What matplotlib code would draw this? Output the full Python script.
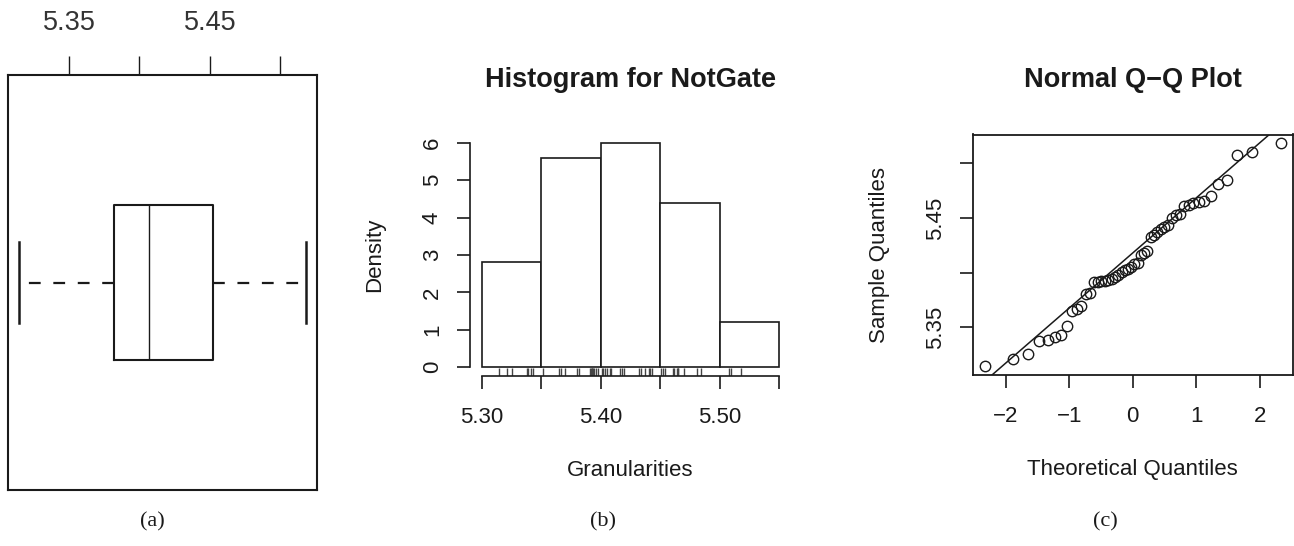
import matplotlib
matplotlib.use("Agg")
import matplotlib.pyplot as plt
import matplotlib.transforms as mtransforms
import numpy as np
from statistics import NormalDist

plt.rcParams['font.family'] = ['Liberation Sans', 'DejaVu Sans']

# NotGate granularity measurements (sorted)
granularities = [
    5.3147, 5.3213, 5.3253, 5.3376, 5.3385, 5.3409, 5.3430, 5.3513, 5.3652, 5.3664,
    5.3695, 5.3804, 5.3817, 5.3911, 5.3917, 5.3923, 5.3926, 5.3932, 5.3941, 5.3962,
    5.3977, 5.4008, 5.4020, 5.4035, 5.4054, 5.4078, 5.4084, 5.4160, 5.4175, 5.4196,
    5.4321, 5.4342, 5.4373, 5.4403, 5.4418, 5.4433, 5.4503, 5.4525, 5.4540, 5.4607,
    5.4616, 5.4640, 5.4646, 5.4652, 5.4698, 5.4808, 5.4844, 5.5075, 5.5097, 5.5180,
]
hist_edges = [5.30, 5.35, 5.40, 5.45, 5.50, 5.55]
box_ticks = [5.35, 5.40, 5.45, 5.50]
box_ticklabels = ['5.35', '', '5.45', '']
hist_xticks = [5.30, 5.35, 5.40, 5.45, 5.50, 5.55]
hist_xticklabels = ['5.30', '', '5.40', '', '5.50', '']
hist_yticks = [0, 1, 2, 3, 4, 5, 6]
qq_xticks = [-2, -1, 0, 1, 2]
qq_xticklabels = ['\u22122', '\u22121', '0', '1', '2']
qq_yticks = [5.35, 5.40, 5.45, 5.50]
qq_yticklabels = ['5.35', '', '5.45', '']
captions = ['(a)', '(b)', '(c)']

x = np.array(granularities)
W, H = 1294, 546
fig = plt.figure(figsize=(W / 100, H / 100), dpi=100)


def rect(l, r, t, b):
    return [l / W, 1 - b / H, (r - l) / W, (b - t) / H]


def padded(lo, hi, f=0.04):
    d = (hi - lo) * f
    return lo - d, hi + d


TICK_FS = 16
LAB_FS = 16
TITLE_FS = 19.5
INK = '#1a1a1a'

# ---------------- (a) horizontal boxplot ----------------
axa = fig.add_axes(rect(8, 317, 75, 490))
n = len(x)
xs = np.sort(x)
med = np.median(xs)
half = (n + 1) // 2
q1 = np.median(xs[:half])
q3 = np.median(xs[n - half:])
stats = [dict(med=med, q1=q1, q3=q3, whislo=xs[0], whishi=xs[-1], fliers=[])]
axa.bxp(stats, positions=[1], widths=0.747, capwidths=0.388,
        orientation='horizontal', showfliers=False,
        boxprops=dict(color=INK, lw=1.5),
        medianprops=dict(color=INK, lw=1.0),
        whiskerprops=dict(color=INK, lw=1.6, linestyle=(0, (5.3, 5.7))),
        capprops=dict(color=INK, lw=1.8))
axa.set_ylim(0, 2)
axa.set_xlim(*padded(xs[0], xs[-1]))
axa.xaxis.tick_top()
axa.set_xticks(box_ticks)
axa.set_xticklabels(box_ticklabels)
axa.tick_params(axis='x', direction='out', length=14, width=1.0, pad=14,
                labelsize=19.5, labelcolor='#333333', color=INK)
axa.set_yticks([])
for s in axa.spines.values():
    s.set_linewidth(1.5)
    s.set_color(INK)

# ---------------- (b) density histogram with rug ----------------
axb = fig.add_axes(rect(470, 791, 134, 376))
axb.hist(x, bins=hist_edges, density=True, facecolor='white',
         edgecolor=INK, linewidth=1.2)
trans = mtransforms.blended_transform_factory(axb.transData, axb.transAxes)
axb.vlines(x, 0, 0.034, transform=trans, color='#444444', lw=1.0)
axb.set_xlim(*padded(hist_edges[0], hist_edges[-1]))
axb.set_ylim(*padded(0, 6))
axb.spines['top'].set_visible(False)
axb.spines['right'].set_visible(False)
axb.spines['left'].set_bounds(0, 6)
axb.spines['bottom'].set_bounds(hist_edges[0], hist_edges[-1])
for s in ('left', 'bottom'):
    axb.spines[s].set_linewidth(1.2)
    axb.spines[s].set_color(INK)
axb.set_xticks(hist_xticks)
axb.set_xticklabels(hist_xticklabels)
axb.set_yticks(hist_yticks)
axb.tick_params(axis='both', direction='out', length=9.5, width=1.2,
                labelsize=TICK_FS, color=INK, labelcolor=INK)
axb.tick_params(axis='x', pad=13)
axb.tick_params(axis='y', pad=10)
for lab in axb.get_yticklabels():
    lab.set_rotation(90)
    lab.set_va('center')
axb.set_xlabel('Granularities', fontsize=LAB_FS, color=INK, va='center')
axb.set_ylabel('Density', fontsize=LAB_FS, color=INK, va='center')
axb.xaxis.set_label_coords(0.5, (376 - 470) / 242)
axb.yaxis.set_label_coords((375 - 470) / 321, 0.5)
axb.text(0.5, (376 - 80) / 242, 'Histogram for NotGate', transform=axb.transAxes,
         ha='center', va='center', fontsize=TITLE_FS, fontweight='bold', color=INK)

# ---------------- (c) normal Q-Q plot ----------------
axc = fig.add_axes(rect(973, 1292.5, 134.5, 375))
nd = NormalDist()
theo = np.array([nd.inv_cdf((i - 0.5) / n) for i in range(1, n + 1)])
axc.plot(theo, xs, linestyle='none', marker='o', ms=7.5, mfc='none',
         mec=INK, mew=1.0)
yq1, yq3 = np.quantile(xs, [0.25, 0.75])
tq1, tq3 = nd.inv_cdf(0.25), nd.inv_cdf(0.75)
slope = (yq3 - yq1) / (tq3 - tq1)
icpt = yq1 - slope * tq1
axc.axline((0, icpt), slope=slope, color=INK, lw=1.1)
axc.set_xlim(*padded(theo[0], theo[-1]))
axc.set_ylim(*padded(xs[0], xs[-1]))
axc.set_xticks(qq_xticks)
axc.set_xticklabels(qq_xticklabels)
axc.set_yticks(qq_yticks)
axc.set_yticklabels(qq_yticklabels)
axc.tick_params(axis='both', direction='out', length=9.5, width=1.2,
                labelsize=TICK_FS, color=INK, labelcolor=INK)
axc.tick_params(axis='x', pad=13)
axc.tick_params(axis='y', pad=10)
for lab in axc.get_yticklabels():
    lab.set_rotation(90)
    lab.set_va('center')
for s in axc.spines.values():
    s.set_linewidth(1.3)
    s.set_color(INK)
axc.set_xlabel('Theoretical Quantiles', fontsize=LAB_FS, color=INK, va='center')
axc.set_ylabel('Sample Quantiles', fontsize=LAB_FS, color=INK, va='center')
axc.xaxis.set_label_coords(0.5, (375 - 470) / 240.5)
axc.yaxis.set_label_coords((880 - 973) / 319.5, 0.5)
axc.text(0.5, (375 - 80) / 240.5, 'Normal Q\u2212Q Plot', transform=axc.transAxes,
         ha='center', va='center', fontsize=TITLE_FS, fontweight='bold', color=INK)

# ---------------- panel captions ----------------
for cx, cap in zip([152, 603, 1105], captions):
    fig.text(cx / W, 1 - 522 / H, cap, ha='center', va='center',
             fontsize=16, family=['Liberation Serif', 'DejaVu Serif'], color=INK)

fig.savefig('out.png', dpi=100, facecolor='white')
